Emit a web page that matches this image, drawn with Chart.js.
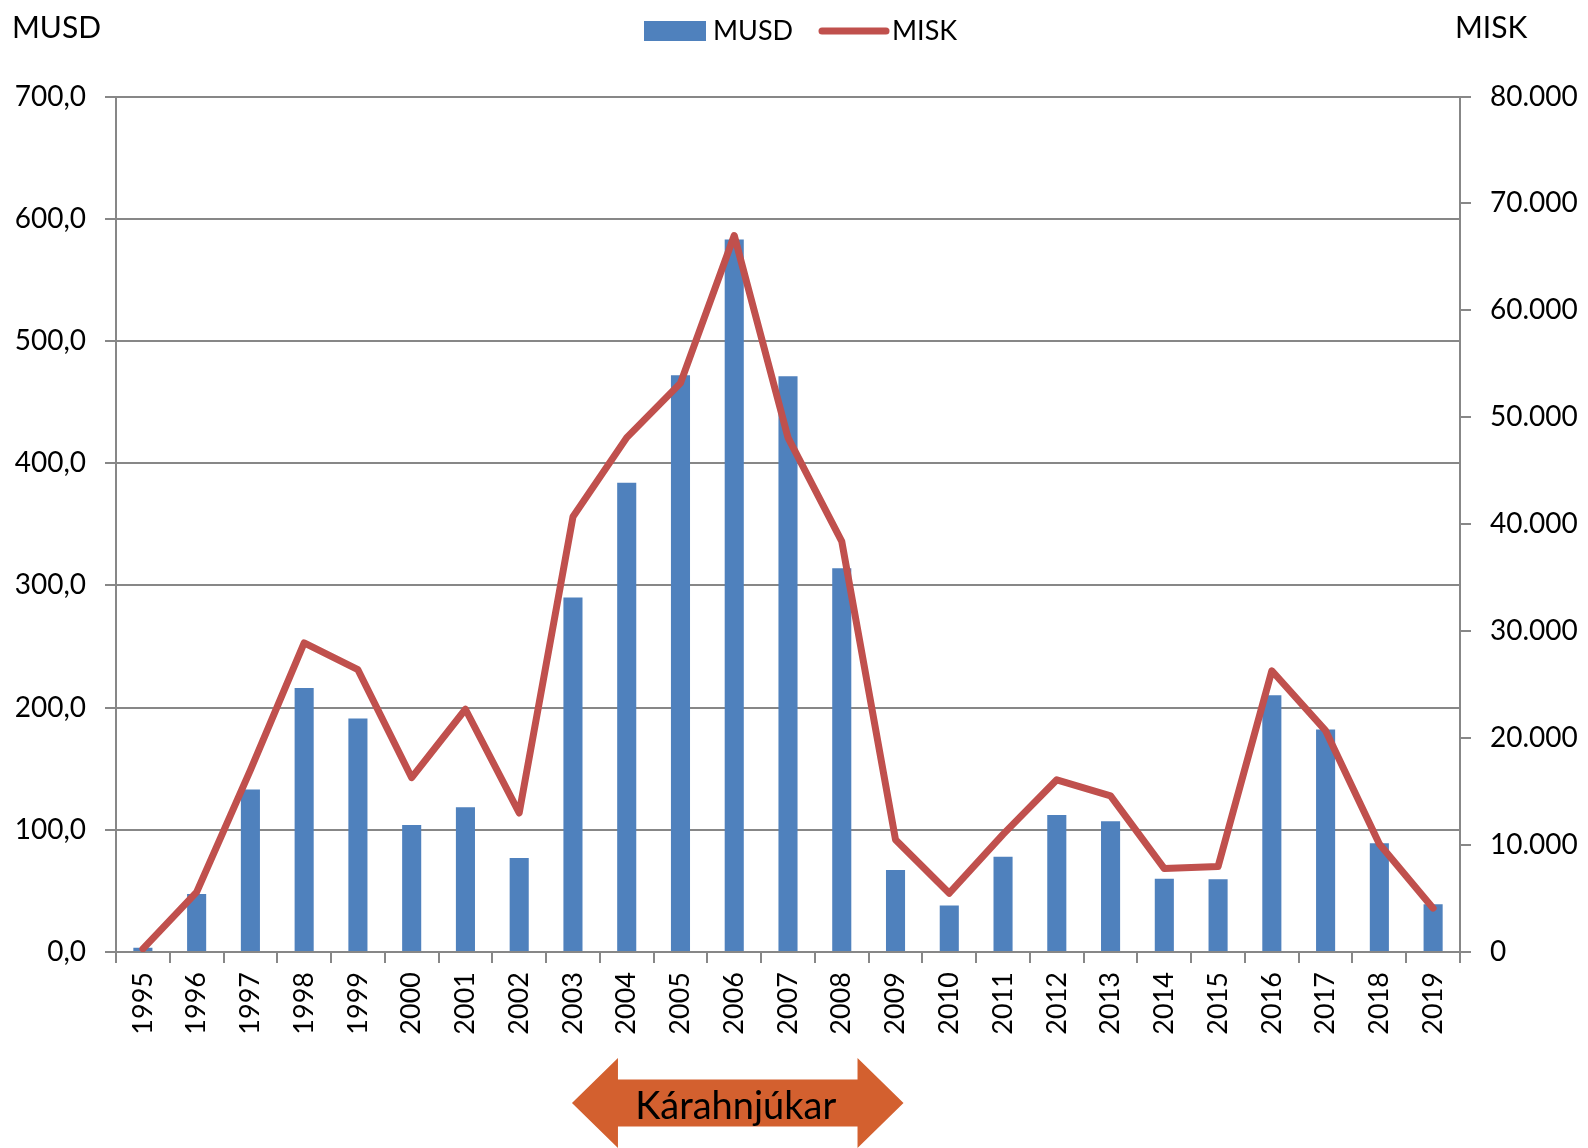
<!DOCTYPE html>
<html>
<head>
<meta charset="utf-8">
<title>MUSD / MISK</title>
<script src="https://cdn.jsdelivr.net/npm/chart.js@4/dist/chart.umd.min.js"></script>
<style>
  html, body { margin: 0; padding: 0; background: #fff; }
  #wrap { width: 1588px; height: 1148px; }
</style>
</head>
<body>
<div id="wrap"><canvas id="myChart"></canvas></div>
<script>
// ár, fjárfesting í milljónum USD og milljónum ISK
const years = ['1995', '1996', '1997', '1998', '1999', '2000', '2001', '2002', '2003', '2004',
  '2005', '2006', '2007', '2008', '2009', '2010', '2011', '2012', '2013', '2014',
  '2015', '2016', '2017', '2018', '2019'];
const musd = [3.5, 47.5, 133, 216, 191, 104, 118.5, 77, 290, 384,
  472, 583, 471, 314, 67, 38, 78, 112, 107, 60,
  59.5, 210, 182, 89, 39];
const misk = [300, 5600, 17000, 28900, 26400, 16300, 22700, 13000, 40700, 48100,
  53200, 67000, 48100, 38400, 10500, 5500, 11000, 16100, 14600, 7800,
  8000, 26300, 20700, 10100, 4100];
const leftTicks = { min: 0, max: 700, step: 100 };
const rightTicks = { min: 0, max: 80000, step: 10000 };

const FONT = 'Lato';
const gridGrey = '#878787';
const blue = '#4F81BD';
const red = '#C0504D';
const orange = '#D3602F';

function thousands(v) {
    return String(v).replace(/\B(?=(\d{3})+(?!\d))/g, '.');
}

// titlar, skýringar og örin fyrir neðan ásinn
const extras = {
    id: 'extras',
    afterDraw(chart) {
        const c = chart.ctx;
        const x = chart.scales.x;
        c.save();
        c.fillStyle = '#000';
        c.textBaseline = 'alphabetic';
        c.font = '30px ' + FONT;
        c.textAlign = 'left';
        c.fillText('MUSD', 12, 38);
        c.fillText('MISK', 1455, 38);

        // legend
        c.font = '27px ' + FONT;
        c.fillStyle = blue;
        c.fillRect(644, 21, 62, 20);
        c.fillStyle = '#000';
        c.fillText('MUSD', 713, 40);
        c.strokeStyle = red;
        c.lineWidth = 7;
        c.lineCap = 'round';
        c.beginPath();
        c.moveTo(822, 31);
        c.lineTo(886, 31);
        c.stroke();
        c.fillText('MISK', 892, 40);

        // Kárahnjúkar ör
        const left = x.getPixelForValue(8) - 1;
        const right = x.getPixelForValue(14) + 8;
        const mid = 1103, half = 45, body = 23.5, head = 46;
        c.fillStyle = orange;
        c.beginPath();
        c.moveTo(left, mid);
        c.lineTo(left + head, mid - half);
        c.lineTo(left + head, mid - body);
        c.lineTo(right - head, mid - body);
        c.lineTo(right - head, mid - half);
        c.lineTo(right, mid);
        c.lineTo(right - head, mid + half);
        c.lineTo(right - head, mid + body);
        c.lineTo(left + head, mid + body);
        c.lineTo(left + head, mid + half);
        c.closePath();
        c.fill();
        c.fillStyle = '#000';
        c.font = '38px ' + FONT;
        c.textAlign = 'center';
        c.fillText('Kárahnjúkar', (left + right) / 2 - 2, 1119);
        c.restore();
    }
};

let ctx = document.getElementById('myChart');
let myChart = new Chart(ctx, {
    data: {
        labels: years,
        datasets: [{
            type: 'line',
            label: 'MISK',
            data: misk,
            yAxisID: 'y1',
            borderColor: red,
            borderWidth: 7,
            borderJoinStyle: 'round',
            borderCapStyle: 'round',
            pointRadius: 0,
            tension: 0,
            order: 0
        }, {
            type: 'bar',
            label: 'MUSD',
            data: musd,
            yAxisID: 'y',
            backgroundColor: blue,
            categoryPercentage: 1,
            barPercentage: 0.355,
            order: 1
        }]
    },
    options: {
        responsive: true,
        maintainAspectRatio: false,
        animation: false,
        layout: { padding: { top: 96.5, left: 0, right: 0, bottom: 0 } },
        plugins: {
            legend: { display: false },
            tooltip: { enabled: false }
        },
        scales: {
            x: {
                offset: true,
                grid: { drawOnChartArea: false, offset: true, color: gridGrey, lineWidth: 2, tickLength: 11 },
                border: { color: gridGrey, width: 2 },
                ticks: {
                    minRotation: 90, maxRotation: 90, autoSkip: false,
                    color: '#000', padding: 9,
                    font: { family: FONT, size: 27 }
                },
                afterFit(s) { s.height = 196; }
            },
            y: {
                position: 'left',
                min: leftTicks.min, max: leftTicks.max,
                grid: { color: gridGrey, lineWidth: 2, tickLength: 11 },
                border: { color: gridGrey, width: 2 },
                ticks: {
                    stepSize: leftTicks.step, color: '#000', padding: 19,
                    font: { family: FONT, size: 28 },
                    callback: v => v.toFixed(1).replace('.', ',')
                },
                afterFit(s) { s.width = 116; }
            },
            y1: {
                position: 'right',
                min: rightTicks.min, max: rightTicks.max,
                grid: { drawOnChartArea: false, color: gridGrey, lineWidth: 2, tickLength: 11 },
                border: { color: gridGrey, width: 2 },
                ticks: {
                    stepSize: rightTicks.step, color: '#000', padding: 19,
                    font: { family: FONT, size: 28 },
                    callback: v => thousands(v)
                },
                afterFit(s) { s.width = 128; }
            }
        }
    },
    plugins: [extras]
});
</script>
</body>
</html>
